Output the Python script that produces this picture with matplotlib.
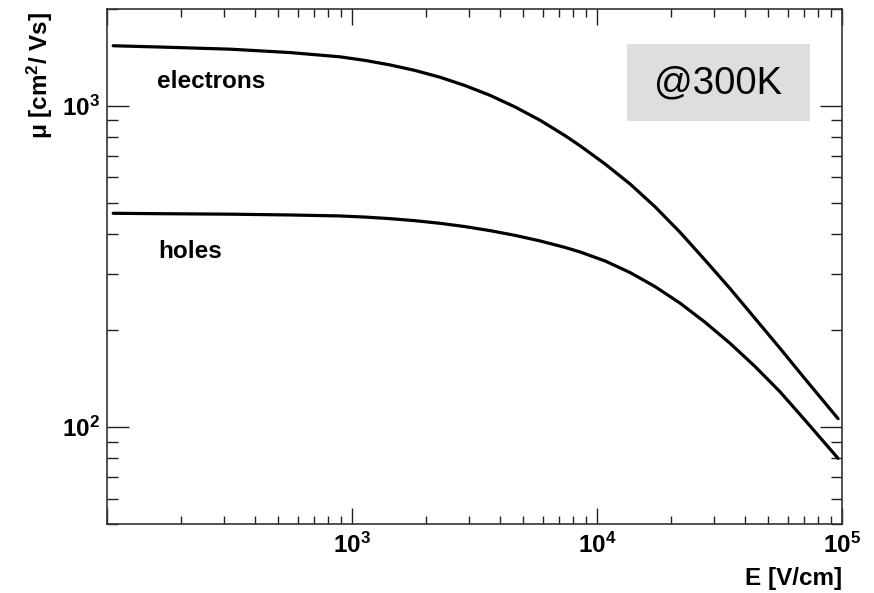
import numpy as np
import matplotlib
matplotlib.use("Agg")
import matplotlib.pyplot as plt
from matplotlib.ticker import LogLocator, FuncFormatter, NullFormatter
from matplotlib.patches import Rectangle

plt.rcParams['font.family'] = ['Liberation Sans', 'DejaVu Sans']
plt.rcParams['mathtext.fontset'] = 'custom'
plt.rcParams['mathtext.rm'] = 'Liberation Sans'
plt.rcParams['mathtext.bf'] = 'Liberation Sans:bold'
plt.rcParams['mathtext.default'] = 'bf'

# mobility vs field at 300 K (Si)
E_field = [106, 165, 318, 558, 893, 1130, 1429, 1807, 2286, 2891, 3656, 4624,
           5848, 7396, 8527, 10790, 13650, 17260, 21830, 27610, 34920, 44160,
           55850, 70630, 96400]
mu_electrons = [1537, 1523, 1500, 1464, 1420, 1384, 1340, 1288, 1227, 1156, 1078, 992,
                902, 808, 751, 659, 571, 485, 404, 331, 270, 218,
                176, 141.4, 106.3]
mu_holes = [463, 461.6, 460, 457.4, 454.2, 450.6, 445.5, 439.1, 430.9, 420.9, 408.9, 395.3,
            379.9, 362.6, 351, 329, 302.8, 273.8, 243.2, 212.1, 182.4, 154.5,
            128.9, 105.2, 80]

x_range = (100, 1e5)
y_range = (50, 2000)
x_labelled = [1e3, 1e4, 1e5]


def pow10_label(v, pos):
    return r'$\mathbf{10^{%d}}$' % int(round(np.log10(v)))


def pow10_label_x(v, pos):
    if min(abs(v - t) / t for t in x_labelled) > 1e-6:
        return ''
    return pow10_label(v, pos)


fig = plt.figure(figsize=(8.74, 5.93), dpi=100)
ax = fig.add_axes([107/874, 1 - 524/593, (842 - 107)/874, (524 - 9)/593])

ax.plot(E_field, mu_electrons, color='black', lw=2.3, solid_capstyle='round',
        solid_joinstyle='round')
ax.plot(E_field, mu_holes, color='black', lw=2.3, solid_capstyle='round',
        solid_joinstyle='round')

ax.set_xscale('log')
ax.set_yscale('log')
ax.set_xlim(*x_range)
ax.set_ylim(*y_range)

for axis in (ax.xaxis, ax.yaxis):
    axis.set_major_locator(LogLocator(base=10, numticks=10))
    axis.set_minor_locator(LogLocator(base=10, subs=np.arange(2, 10), numticks=10))
    axis.set_minor_formatter(NullFormatter())
ax.xaxis.set_major_formatter(FuncFormatter(pow10_label_x))
ax.yaxis.set_major_formatter(FuncFormatter(pow10_label))

ax.tick_params(which='both', direction='in', top=True, right=True,
               color='#222222', width=1.0, labelsize=17.5)
ax.tick_params(axis='x', which='major', length=11.5, pad=6)
ax.tick_params(axis='x', which='minor', length=5.8)
ax.tick_params(axis='y', which='major', length=15.5, pad=5)
ax.tick_params(axis='y', which='minor', length=7.8)

for sp in ax.spines.values():
    sp.set_color('#333333')
    sp.set_linewidth(1.2)

# axis titles in ROOT style (at the ends of the axes)
fig.text(842/874, 1 - 585/593, 'E [V/cm]', ha='right', va='baseline',
         fontsize=17.5, fontweight='bold')
fig.text(40/874, 1 - 12/593, 'μ [cm$^2$/ Vs]', rotation=90, ha='center', va='top',
         fontsize=17.5, fontweight='bold')

fig.text(157/874, 1 - 88/593, 'electrons', ha='left', va='baseline',
         fontsize=17.5, fontweight='bold')
fig.text(158/874, 1 - 258/593, 'holes', ha='left', va='baseline',
         fontsize=17.5, fontweight='bold')

# temperature box
fig.patches.append(Rectangle((627/874, 1 - 121/593), 183/874, 77/593,
                             transform=fig.transFigure, facecolor='#dedede',
                             edgecolor='none', zorder=3))
fig.text(718/874, 1 - 83/593, '@300K', ha='center', va='center',
         fontsize=27.5, zorder=4)

fig.savefig('out.png', dpi=100)
